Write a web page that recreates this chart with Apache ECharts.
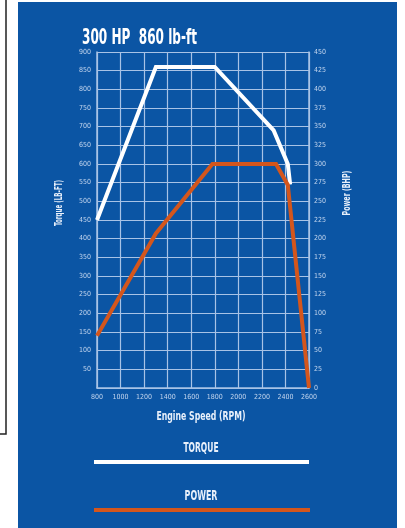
<!DOCTYPE html>
<html>
<head>
<meta charset="utf-8">
<script src="https://cdn.jsdelivr.net/npm/echarts@6/dist/echarts.min.js"></script>
<style>
html,body{margin:0;padding:0;background:#fff;}
#c{width:405px;height:528px;}
</style>
</head>
<body>
<div id="c"></div>
<script>
// ---- data ----
var titleText = '300 HP  860 lb-ft';
var seriesNames = ['TORQUE', 'POWER'];
var xAxisName = 'Engine Speed (RPM)';
var leftAxisName = 'Torque (LB-FT)';
var rightAxisName = 'Power (BHP)';

var torqueRpm = [800, 1300, 1800, 2300, 2420, 2440];
var torqueValues = [450, 860, 860, 690, 600, 545];

var powerRpm = [800, 1300, 1780, 2320, 2420, 2600];
var powerValues = [70, 207, 300, 300, 272, 0];

// ---- styles ----
var BLUE = '#0b55a4';
var ORANGE = '#d4561c';
var GRIDC = '#a8c3e6';
var LABELC = '#c3d5ee';
var FONT = '"DejaVu Sans Condensed", "Liberation Sans Narrow", sans-serif';

function pairs(xs, ys) { return xs.map(function (x, i) { return [x, ys[i]]; }); }

var chart = echarts.init(document.getElementById('c'), null, {renderer: 'canvas'});

var labelStyle = {color: LABELC, fontSize: 7, fontFamily: FONT, fontWeight: 'normal'};

chart.setOption({
  backgroundColor: '#ffffff',
  animation: false,
  grid: {left: 97, right: 96, top: 52, bottom: 140},
  xAxis: {
    type: 'value', min: 800, max: 2600, interval: 200,
    axisLine: {show: true, lineStyle: {color: GRIDC, width: 1.5}},
    axisTick: {show: false},
    splitLine: {show: true, lineStyle: {color: GRIDC, width: 1.2}},
    axisLabel: Object.assign({margin: 6, formatter: function (v) { return String(v); }}, labelStyle)
  },
  yAxis: [{
    type: 'value', min: 0, max: 900, interval: 50,
    axisLine: {show: true, lineStyle: {color: GRIDC, width: 1.5}},
    axisTick: {show: false},
    splitLine: {show: true, lineStyle: {color: GRIDC, width: 1.2}},
    axisLabel: Object.assign({margin: 6, formatter: function (v) { return v === 0 ? '' : String(v); }}, labelStyle)
  }, {
    type: 'value', min: 0, max: 450, interval: 25, position: 'right',
    axisLine: {show: true, lineStyle: {color: GRIDC, width: 1.5}},
    axisTick: {show: false},
    splitLine: {show: false},
    axisLabel: Object.assign({margin: 5, formatter: function (v) { return String(v); }}, labelStyle)
  }],
  series: [{
    name: seriesNames[0], type: 'line', yAxisIndex: 0,
    data: pairs(torqueRpm, torqueValues),
    showSymbol: false, symbol: 'none',
    lineStyle: {color: '#ffffff', width: 4, cap: 'butt', join: 'miter'},
    z: 3
  }, {
    name: seriesNames[1], type: 'line', yAxisIndex: 1,
    data: pairs(powerRpm, powerValues),
    showSymbol: false, symbol: 'none',
    lineStyle: {color: ORANGE, width: 4, cap: 'butt', join: 'miter'},
    z: 4
  }],
  graphic: [
    {type: 'rect', z: -10, shape: {x: 18, y: 2, width: 379, height: 526}, style: {fill: BLUE}},
    {type: 'polyline', z: -10, shape: {points: [[6, 0], [6, 434], [0, 434]]}, style: {stroke: '#222', lineWidth: 1.5, fill: null}},
    {type: 'text', x: 82, y: 27, scaleX: 0.61, z: 10,
      style: {text: titleText, fill: '#ffffff', fontSize: 22, fontWeight: 'bold', fontFamily: FONT, textVerticalAlign: 'top', textAlign: 'left'}},
    {type: 'text', x: 201, y: 417, scaleX: 0.72, z: 10,
      style: {text: xAxisName, fill: '#e8f0fb', fontSize: 12, fontWeight: 'bold', fontFamily: FONT, textAlign: 'center', textVerticalAlign: 'middle'}},
    {type: 'text', x: 59, y: 203, rotation: Math.PI / 2, scaleX: 0.62, z: 10,
      style: {text: leftAxisName, fill: '#e8f0fb', fontSize: 10, fontWeight: 'bold', fontFamily: FONT, textAlign: 'center', textVerticalAlign: 'middle'}},
    {type: 'text', x: 347, y: 193, rotation: Math.PI / 2, scaleX: 0.7, z: 10,
      style: {text: rightAxisName, fill: '#e8f0fb', fontSize: 10, fontWeight: 'bold', fontFamily: FONT, textAlign: 'center', textVerticalAlign: 'middle'}},
    {type: 'text', x: 201, y: 448, scaleX: 0.6, z: 10,
      style: {text: seriesNames[0], fill: '#e8f0fb', fontSize: 14, fontWeight: 'bold', fontFamily: FONT, textAlign: 'center', textVerticalAlign: 'middle'}},
    {type: 'line', z: 10, shape: {x1: 94, y1: 462, x2: 309, y2: 462}, style: {stroke: '#ffffff', lineWidth: 4}},
    {type: 'text', x: 201, y: 496, scaleX: 0.63, z: 10,
      style: {text: seriesNames[1], fill: '#e8f0fb', fontSize: 14, fontWeight: 'bold', fontFamily: FONT, textAlign: 'center', textVerticalAlign: 'middle'}},
    {type: 'line', z: 10, shape: {x1: 94, y1: 510, x2: 310, y2: 510}, style: {stroke: ORANGE, lineWidth: 4}}
  ]
});
</script>
</body>
</html>
